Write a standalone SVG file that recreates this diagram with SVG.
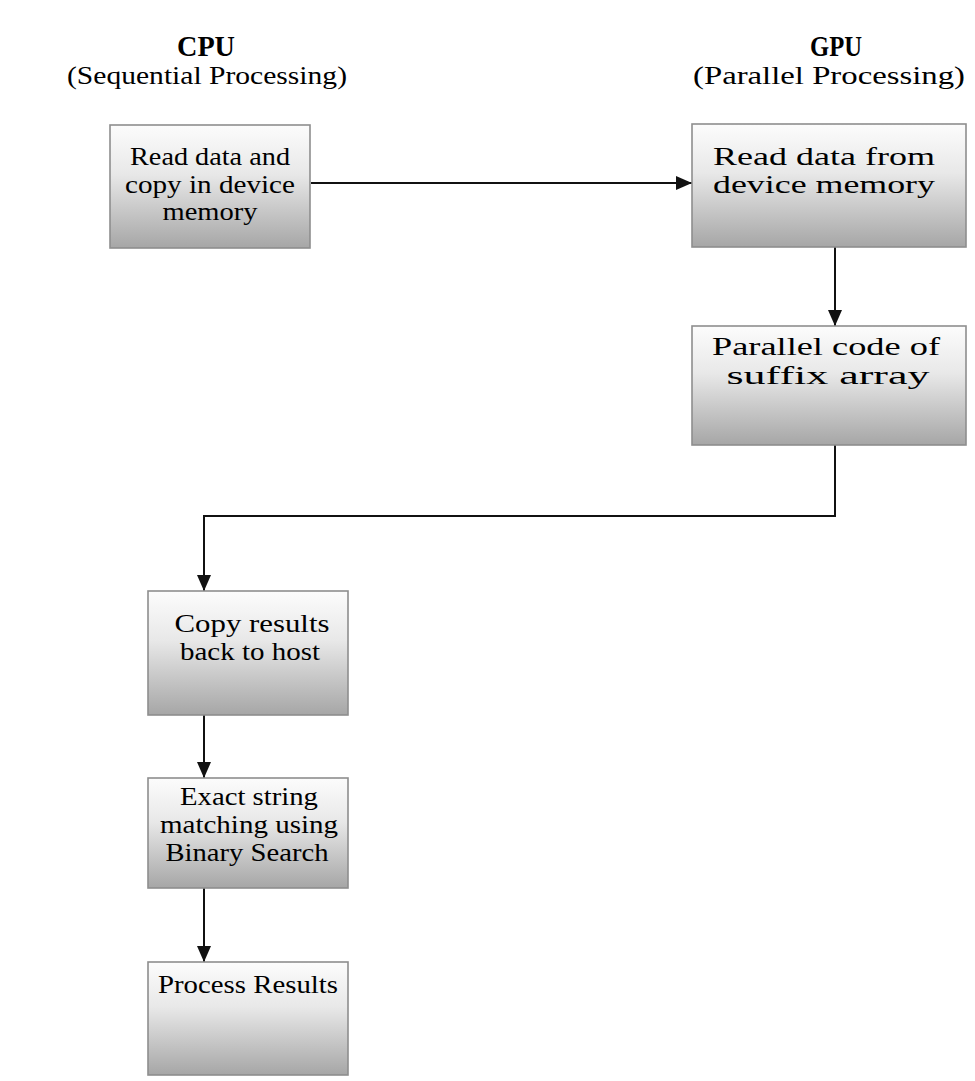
<svg xmlns="http://www.w3.org/2000/svg" width="975" height="1081" viewBox="0 0 975 1081">
<style>
.box{fill:url(#g);stroke:#8e8e8e;stroke-width:1.6}
.t{font-family:"Liberation Serif","Times New Roman",serif;font-size:26px;fill:#000;text-anchor:middle}
.h{font-family:"Liberation Serif","Times New Roman",serif;font-size:26px;fill:#000;text-anchor:middle}
.hb{font-weight:bold;font-size:29px}
.c{fill:none;stroke:#111;stroke-width:2}
</style>
<defs>
<linearGradient id="g" x1="0" y1="0" x2="0" y2="1">
<stop offset="0" stop-color="#fcfcfc"/>
<stop offset="0.4" stop-color="#e8e8e8"/>
<stop offset="1" stop-color="#a6a6a6"/>
</linearGradient>
<marker id="ah" markerUnits="userSpaceOnUse" markerWidth="18" markerHeight="16" refX="16" refY="7" orient="auto">
<path d="M0,0 L16,7 L0,14 Z" fill="#111"/>
</marker>
</defs>
<rect width="975" height="1081" fill="#fff"/>
<g id="headers">
<text class="h hb" x="206" y="56" textLength="58" lengthAdjust="spacingAndGlyphs">CPU</text>
<text class="h" x="207" y="84" textLength="280" lengthAdjust="spacingAndGlyphs">(Sequential Processing)</text>
<text class="h hb" x="836" y="56" textLength="52" lengthAdjust="spacingAndGlyphs">GPU</text>
<text class="h" x="829" y="84" textLength="272" lengthAdjust="spacingAndGlyphs">(Parallel Processing)</text>
</g>
<g id="connectors">
<path class="c" d="M311,183 H692" stroke-width="1.2" marker-end="url(#ah)"/>
<path class="c" d="M835,247 V326" marker-end="url(#ah)"/>
<path class="c" d="M835,445 V516 H204 V591" marker-end="url(#ah)"/>
<path class="c" d="M204,715 V778" marker-end="url(#ah)"/>
<path class="c" d="M204,888 V962" marker-end="url(#ah)"/>
</g>
<g id="n1">
<rect class="box" x="110" y="125" width="200" height="123"/>
<text class="t" x="210" y="165" textLength="160" lengthAdjust="spacingAndGlyphs">Read data and</text>
<text class="t" x="210" y="193" textLength="170" lengthAdjust="spacingAndGlyphs">copy in device</text>
<text class="t" x="210" y="220" textLength="95" lengthAdjust="spacingAndGlyphs">memory</text>
</g>
<g id="n2">
<rect class="box" x="692" y="124" width="274" height="123"/>
<text class="t" x="824" y="165" textLength="222" lengthAdjust="spacingAndGlyphs">Read data from</text>
<text class="t" x="824" y="193" textLength="222" lengthAdjust="spacingAndGlyphs">device memory</text>
</g>
<g id="n3">
<rect class="box" x="692" y="326" width="274" height="119"/>
<text class="t" x="826" y="355" textLength="228" lengthAdjust="spacingAndGlyphs">Parallel code of</text>
<text class="t" x="828" y="384" textLength="203" lengthAdjust="spacingAndGlyphs">suffix array</text>
</g>
<g id="n4">
<rect class="box" x="148" y="591" width="200" height="124"/>
<text class="t" x="252" y="632" textLength="155" lengthAdjust="spacingAndGlyphs">Copy results</text>
<text class="t" x="250" y="660" textLength="140" lengthAdjust="spacingAndGlyphs">back to host</text>
</g>
<g id="n5">
<rect class="box" x="148" y="778" width="200" height="110"/>
<text class="t" x="249" y="805" textLength="138" lengthAdjust="spacingAndGlyphs">Exact string</text>
<text class="t" x="249" y="833" textLength="178" lengthAdjust="spacingAndGlyphs">matching using</text>
<text class="t" x="247" y="861" textLength="163" lengthAdjust="spacingAndGlyphs">Binary Search</text>
</g>
<g id="n6">
<rect class="box" x="148" y="962" width="200" height="113"/>
<text class="t" x="248" y="993" textLength="180" lengthAdjust="spacingAndGlyphs">Process Results</text>
</g>
</svg>
